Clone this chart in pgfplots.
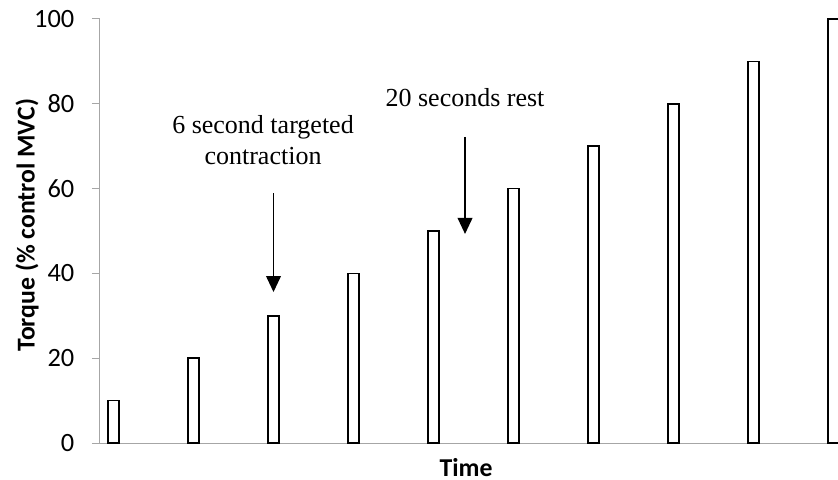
\documentclass[border=0pt]{standalone}
\usepackage{pgfplots}
\pgfplotsset{compat=1.18}
\usepackage{fontspec}
\setmainfont{Liberation Serif}
\newfontfamily\calibri{Carlito}
\usetikzlibrary{arrows.meta}
\definecolor{axgray}{HTML}{A6A6A6}
\begin{document}
\begin{tikzpicture}
\begin{axis}[
 at={(0,0)}, anchor=south west,
 scale only axis, width=553.5pt, height=318pt,
 xmin=0.83125, xmax=10.056, ymin=0, ymax=100,
 axis lines=left,
 axis line style={-, draw=axgray, line width=0.75pt},
 xtick=\empty, ytick={0,20,...,100},
 tick align=outside, major tick length=6pt,
 tick style={draw=axgray, line width=0.75pt},
 yticklabel style={font=\calibri\fontsize{19.8}{22}\selectfont, anchor=east, xshift=-9.75pt},
 /pgf/number format/assume math mode=true,
 xlabel={Time}, ylabel={Torque (\% control MVC)},
 every axis x label/.style={at={(axis description cs:0.496,-0.057)}, anchor=center, inner sep=0pt, font=\calibri\bfseries\fontsize{19.3}{23}\selectfont},
 every axis y label/.style={at={(axis description cs:-0.0989,0.514)}, anchor=center, rotate=90, font=\calibri\bfseries\fontsize{19.3}{23}\selectfont},
 clip=false,
]
\addplot[ybar, bar width=7.875pt, fill=white, draw=black, line width=1.2pt]
 coordinates {(1,10)(2,20)(3,30)(4,40)(5,50)(6,60)(7,70)(8,80)(9,90)(10,100)};
\node[font=\fontsize{19.5}{24}\selectfont, anchor=base] at (axis cs:2.869,73.1) {6 second targeted};
\node[font=\fontsize{19.5}{24}\selectfont, anchor=base] at (axis cs:2.869,65.57) {contraction};
\node[font=\fontsize{19.5}{24}\selectfont, anchor=base] at (axis cs:5.394,79.48) {20 seconds rest};
\draw[line width=1.2pt, -{Triangle[width=11pt,length=12pt]}] (axis cs:3,58.96) -- (axis cs:3,35.6);
\draw[line width=1.2pt, -{Triangle[width=11pt,length=12pt]}] (axis cs:5.394,72.17) -- (axis cs:5.394,49.3);
\end{axis}
\pgfresetboundingbox
\path[use as bounding box] (-75pt,-27pt) rectangle (553.5pt,332.25pt);
\end{tikzpicture}
\end{document}
